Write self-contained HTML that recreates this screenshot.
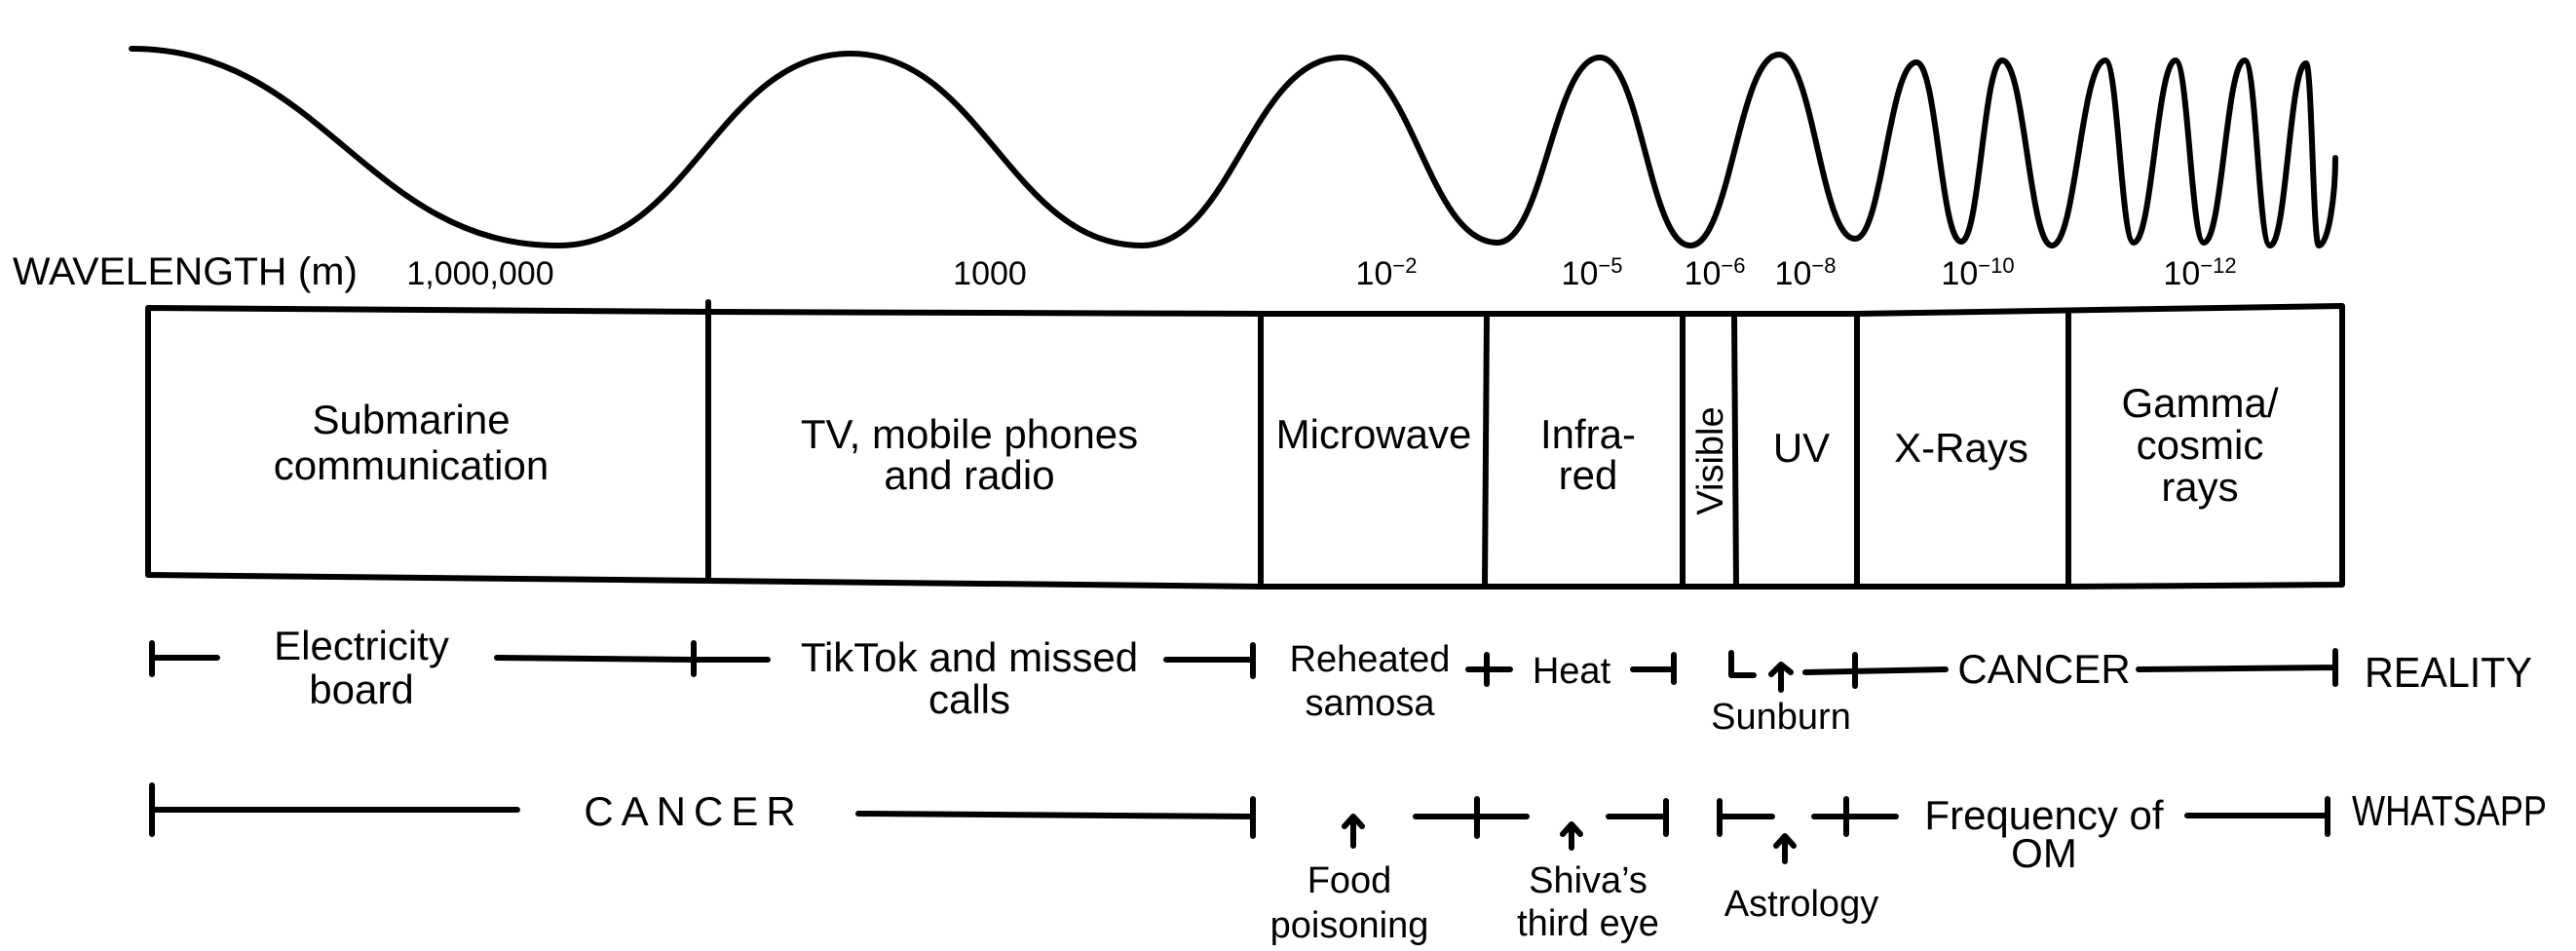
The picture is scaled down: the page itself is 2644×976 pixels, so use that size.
<!DOCTYPE html>
<html><head><meta charset="utf-8"><style>
html,body{margin:0;padding:0;background:#fff;}
svg{display:block;}
text{font-family:"Liberation Sans Narrow","Liberation Sans",sans-serif;fill:#000;}
</style></head><body>
<svg width="2644" height="976" viewBox="0 0 2644 976" xmlns="http://www.w3.org/2000/svg">
<g fill="none" stroke="#000" stroke-width="6" stroke-linecap="round" stroke-linejoin="round">
<path d="M135,50 C332,50 376,252 573,252 C708,252 738,55 873,55 C1008,55 1037,252 1172,252 C1264,252 1285,59 1377,59 C1449,59 1465,249 1537,249 C1584,249 1595,59 1642,59 C1684,59 1693,252 1735,252 C1776,252 1785,56 1826,56 C1861,56 1869,245 1904,245 C1932,245 1939,64 1967,64 C1988,64 1992,248 2013,248 C2032,248 2036,62 2055,62 C2078,62 2083,252 2106,252 C2131,252 2136,62 2161,62 C2174,62 2177,249 2190,249 C2209,249 2214,62 2233,62 C2246,62 2249,249 2262,249 C2281,249 2285,62 2304,62 C2316,62 2318,252 2330,252 C2347,252 2350,65 2367,65 C2373,65 2374,252 2380,252 C2390,252 2397,200 2397,162"/>
<path d="M152,316 L727,320 L1294,322 L1906,322 L2404,314 L2404,600 L2123,602 L1294,602 L727,596 L152,590 Z"/>
<path d="M727,310 L727,596 M1294,322 L1294,602 M1526,322 L1524,600 M1727,322 L1727,600 M1780,322 L1782,600 M1906,322 L1906,600 M2123,322 L2123,602"/>
<path d="M156,660 L156,692 M156,675 L223,675 M510,675 L712,677 M712,660 L712,692 M712,677 L788,677 M1197,677 L1286,677 M1286,662 L1286,694 M1507,687 L1550,687 M1526,672 L1526,702 M1676,687 L1718,687 M1718,672 L1718,700 M1777,670 L1777,693 M1777,693 L1800,693 M1828,708 L1828,682 M1818,692 L1828,682 L1838,690 M1853,690 L1997,687 M1904,672 L1904,704 M2195,687 L2397,685 M2397,668 L2397,702"/>
<path d="M156,806 L156,856 M156,831 L531,831 M881,835 L1286,838 M1286,820 L1286,858 M1389,868 L1389,838 M1380,848 L1389,838 L1398,848 M1453,838 L1567,838 M1516,820 L1516,858 M1613,870 L1613,846 M1604,856 L1613,846 L1622,856 M1651,838 L1710,838 M1710,822 L1710,856 M1765,822 L1765,856 M1765,838 L1819,838 M1832,884 L1832,858 M1823,868 L1832,858 L1841,868 M1862,838 L1946,838 M1895,820 L1895,856 M2245,837 L2389,837 M2389,820 L2389,856"/>
</g>
<g font-size="36" text-anchor="middle">
<text x="13" y="292" font-size="40" text-anchor="start" textLength="354" lengthAdjust="spacingAndGlyphs">WAVELENGTH (m)</text>
<text x="493" y="292" font-size="34">1,000,000</text>
<text x="1016" y="292" font-size="34">1000</text>
<text x="1423" y="292" font-size="34">10<tspan dy="-12" font-size="22">−2</tspan></text>
<text x="1634" y="292" font-size="34">10<tspan dy="-12" font-size="22">−5</tspan></text>
<text x="1760" y="292" font-size="34">10<tspan dy="-12" font-size="22">−6</tspan></text>
<text x="1853" y="292" font-size="34">10<tspan dy="-12" font-size="22">−8</tspan></text>
<text x="2030" y="292" font-size="34">10<tspan dy="-12" font-size="22">−10</tspan></text>
<text x="2258" y="292" font-size="34">10<tspan dy="-12" font-size="22">−12</tspan></text>
</g>
<g font-size="42" text-anchor="middle">
<text x="422" y="445">Submarine</text>
<text x="422" y="492">communication</text>
<text x="995" y="460">TV, mobile phones</text>
<text x="995" y="502">and radio</text>
<text x="1410" y="460">Microwave</text>
<text x="1630" y="460">Infra-</text>
<text x="1630" y="502">red</text>
<text x="0" y="0" transform="translate(1768,473) rotate(-90)" font-size="38">Visible</text>
<text x="1849" y="474">UV</text>
<text x="2013" y="474">X-Rays</text>
<text x="2258" y="428">Gamma/</text>
<text x="2258" y="471">cosmic</text>
<text x="2258" y="514">rays</text>
<text x="371" y="677">Electricity</text>
<text x="371" y="722">board</text>
<text x="995" y="689">TikTok and missed</text>
<text x="995" y="732">calls</text>
<text x="1406" y="689" font-size="38">Reheated</text>
<text x="1406" y="734" font-size="38">samosa</text>
<text x="1613" y="701" font-size="38">Heat</text>
<text x="1828" y="748" font-size="38">Sunburn</text>
<text x="2098" y="701">CANCER</text>
<text x="2427" y="705" font-size="44" text-anchor="start" textLength="172" lengthAdjust="spacingAndGlyphs">REALITY</text>
<text x="712" y="847" letter-spacing="8">CANCER</text>
<text x="1385" y="916" font-size="38">Food</text>
<text x="1385" y="962" font-size="38">poisoning</text>
<text x="1630" y="916" font-size="38">Shiva’s</text>
<text x="1630" y="960" font-size="38">third eye</text>
<text x="1849" y="940" font-size="38">Astrology</text>
<text x="2098" y="851">Frequency of</text>
<text x="2098" y="890">OM</text>
<text x="2414" y="847" font-size="44" text-anchor="start" textLength="200" lengthAdjust="spacingAndGlyphs">WHATSAPP</text>
</g>
</svg>
</body></html>
